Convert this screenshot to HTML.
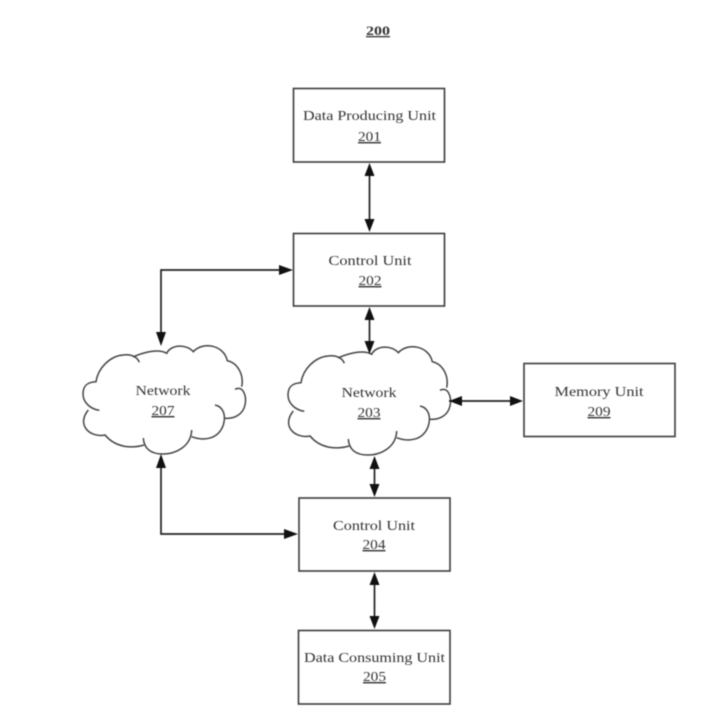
<!DOCTYPE html>
<html><head><meta charset="utf-8"><style>
html,body{margin:0;padding:0;background:#fff;width:720px;height:727px;overflow:hidden}
svg{display:block;filter:blur(.6px)}
text{font-family:"Liberation Serif",serif;font-size:14px;fill:#333;text-anchor:middle}
.u{text-decoration:underline}
.b{fill:#fff;stroke:#3c3c3c;stroke-width:1.6}
.l{fill:none;stroke:#222;stroke-width:1.7}
.c{fill:none;stroke:#444;stroke-width:1.5}
.a{fill:#111}
</style></head><body>
<svg width="720" height="727" viewBox="0 0 720 727" xmlns="http://www.w3.org/2000/svg">
<defs>
<g id="cloud">
<path class="c" d="M99.300 410.300 C90 409 83 402 83 394 C83 385 88 382 96 381.700 C98 368 110 356 123 355 C130 354 137 356 139.300 362.300"/>
<path class="c" d="M133 357 C142 353 158 348 166.700 353.300 C171 344 187 344 193.300 351.700 C203 341 224 345 227.300 360.700 C238 363 244 375 241.700 386.700"/>
<path class="c" d="M235 389.300 C243 385 247 396 245 405 C243 414 235 419 225 418.300"/>
<path class="c" d="M215 405 C224 407 226 416 223.300 425 C218 440 203 441 191.700 436.700"/>
<path class="c" d="M191.700 430 C191 447 175 454 163 454 C150 454 144 448 143.300 438"/>
<path class="c" d="M144 445 C130 449 115 447 105 435 C90 438 76 425 88.300 410"/>
</g>
</defs>
<text x="378" y="35" class="u" style="font-weight:bold;font-size:13px" textLength="24" lengthAdjust="spacingAndGlyphs">200</text>

<rect class="b" x="293.500" y="88.500" width="151" height="73.500"/>
<rect class="b" x="293.500" y="233.500" width="151" height="72.500"/>
<rect class="b" x="299" y="498" width="151" height="73"/>
<rect class="b" x="298.500" y="630.500" width="151.500" height="73.500"/>
<rect class="b" x="524" y="363.500" width="151" height="73"/>

<use href="#cloud"/>
<use href="#cloud" transform="translate(205,1)"/>

<path class="l" d="M369.500 168V228M369.500 312V349M449 401H518M374.500 462V493M374.500 577V625"/>
<path class="l" d="M288 270H161V341M161 458V534H293"/>

<path class="a" d="M369.500 163l-5 13h10zM369.500 232l-5 -13h10z"/>
<path class="a" d="M369.500 307l-5 13h10zM369.500 354l-5 -13h10z"/>
<path class="a" d="M449 401l13 -5v10zM523 401l-13 -5v10z"/>
<path class="a" d="M374.500 456l-5 13h10zM374.500 497l-5 -13h10z"/>
<path class="a" d="M374.500 572l-5 13h10zM374.500 629l-5 -13h10z"/>
<path class="a" d="M293 270l-14 -5v10zM161 346l-5 -14h10z"/>
<path class="a" d="M161 454l-5 14h10zM298 534l-14 -5v10z"/>

<text x="369.500" y="120" textLength="133" lengthAdjust="spacingAndGlyphs">Data Producing Unit</text>
<text x="369.500" y="141" class="u" textLength="23" lengthAdjust="spacingAndGlyphs">201</text>
<text x="370" y="265" textLength="83" lengthAdjust="spacingAndGlyphs">Control Unit</text>
<text x="370" y="285" class="u" textLength="23" lengthAdjust="spacingAndGlyphs">202</text>
<text x="163" y="395" textLength="55" lengthAdjust="spacingAndGlyphs">Network</text>
<text x="163" y="415" class="u" textLength="23" lengthAdjust="spacingAndGlyphs">207</text>
<text x="369" y="397" textLength="55" lengthAdjust="spacingAndGlyphs">Network</text>
<text x="369" y="417" class="u" textLength="23" lengthAdjust="spacingAndGlyphs">203</text>
<text x="599" y="396" textLength="89" lengthAdjust="spacingAndGlyphs">Memory Unit</text>
<text x="599" y="416" class="u" textLength="23" lengthAdjust="spacingAndGlyphs">209</text>
<text x="374" y="530" textLength="82" lengthAdjust="spacingAndGlyphs">Control Unit</text>
<text x="374" y="549" class="u" textLength="23" lengthAdjust="spacingAndGlyphs">204</text>
<text x="374.500" y="662" textLength="141" lengthAdjust="spacingAndGlyphs">Data Consuming Unit</text>
<text x="374.500" y="681" class="u" textLength="23" lengthAdjust="spacingAndGlyphs">205</text>
</svg>
</body></html>
